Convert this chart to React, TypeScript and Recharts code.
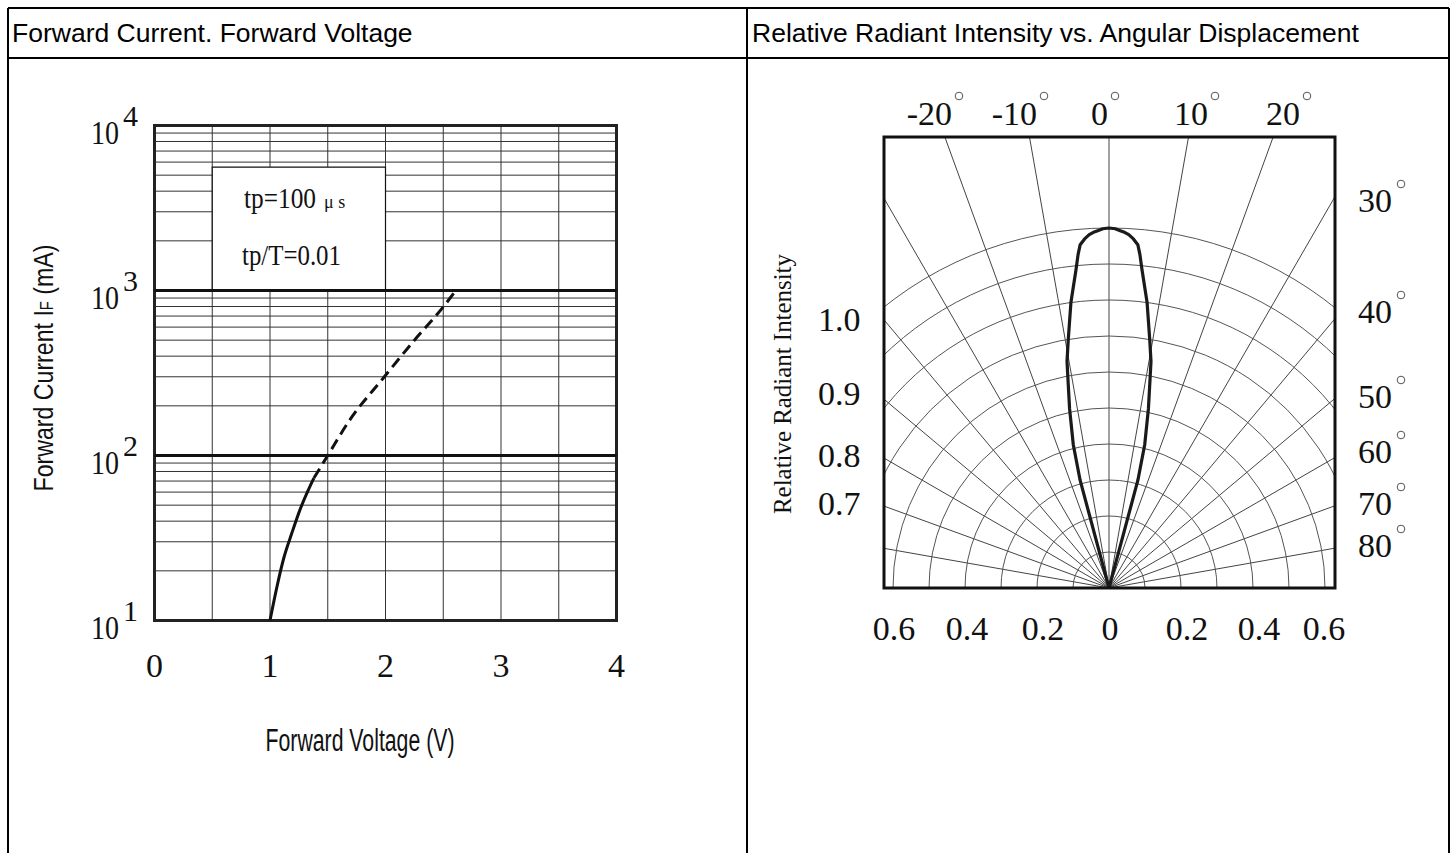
import React from "react";
import {
  LineChart,
  Line,
  XAxis,
  YAxis,
  CartesianGrid,
  ReferenceLine,
  ReferenceArea,
  RadarChart,
  Radar,
  PolarGrid,
  PolarAngleAxis,
  PolarRadiusAxis,
} from "recharts";

// ---- Forward current vs forward voltage ----
const VF_SOLID = [1.0, 1.06, 1.12, 1.19, 1.26, 1.35, 1.38];
const IF_SOLID = [10, 16, 24, 34, 47, 66, 73];
const VF_DASHED = [1.38, 1.5, 1.69, 1.98, 2.24, 2.5, 2.59];
const IF_DASHED = [73, 100, 164, 294, 490, 795, 960];

const VF_TICKS = [0, 0.5, 1, 1.5, 2, 2.5, 3, 3.5, 4];
const IF_TICKS = [
  10, 20, 30, 40, 50, 60, 70, 80, 90,
  100, 200, 300, 400, 500, 600, 700, 800, 900,
  1000, 2000, 3000, 4000, 5000, 6000, 7000, 8000, 9000, 10000,
];
const LEGEND_LINES = ["tp=100", "tp/T=0.01"];

// ---- Radiation pattern ----
const BEAM_ANGLE = [
  -15.6, -15.0, -14.0, -12.4, -11.0, -10.5, -9.3, -7.6, -5.9, -5.3, -4.8, -4.0, -3.2, -2.5, -1.8, -1.0,
  0,
  1.0, 1.8, 2.5, 3.2, 4.0, 4.8, 5.3, 5.9, 7.6, 9.3, 10.5, 11.0, 12.4, 14.0, 15.0, 15.6,
];
const BEAM_INTENSITY = [
  0, 0.31, 0.41, 0.51, 0.6, 0.64, 0.7, 0.8, 0.89, 0.93, 0.957, 0.972, 0.983, 0.989, 0.993, 0.998,
  1.0,
  0.998, 0.993, 0.989, 0.983, 0.972, 0.957, 0.93, 0.89, 0.8, 0.7, 0.64, 0.6, 0.51, 0.41, 0.31, 0,
];
const SPOKE_ANGLES = [-90, -80, -70, -60, -50, -40, -30, -20, -10, 0, 10, 20, 30, 40, 50, 60, 70, 80, 90];
const RINGS = [0.1, 0.2, 0.3, 0.4, 0.5, 0.6, 0.7, 0.8, 0.9, 1.0];
const TOP_ANGLE_LABELS = [-20, -10, 0, 10, 20];
const SIDE_ANGLE_LABELS = [30, 40, 50, 60, 70, 80];
const LEFT_INTENSITY_LABELS = ["1.0", "0.9", "0.8", "0.7"];
const BOTTOM_LABELS = ["0.6", "0.4", "0.2", "0", "0.2", "0.4", "0.6"];

const ivRows = [
  ...VF_SOLID.map((v, i) => ({ v, solid: IF_SOLID[i] })),
  ...VF_DASHED.map((v, i) => ({ v, dashed: IF_DASHED[i] })),
];
const beamRows = BEAM_ANGLE.map((angle, i) => ({ angle, intensity: BEAM_INTENSITY[i] }));

const SANS = "'Liberation Sans', Arial, sans-serif";
const SERIF = "'Liberation Serif', 'Times New Roman', serif";

// polar plot placement (page pixels)
const BOX = { left: 884, top: 137, size: 451 };
const RADIUS = 360;

// label placement
const TOP_LABEL_RIGHT = [952, 1037, 1108, 1208, 1300];
const SIDE_LABEL_BASE = [212, 323, 408, 463, 515, 557];
const LEFT_LABEL_BASE = [331, 405, 467, 515];
const BOTTOM_LABEL_X = [894, 967, 1043, 1110, 1187, 1259, 1324];

const VoltTick = (props: any) => {
  const { x, payload } = props;
  if (!Number.isInteger(payload.value)) return <g />;
  return (
    <text x={x} y={677} textAnchor="middle" fontFamily={SERIF} fontSize={34} fill="#111">
      {payload.value}
    </text>
  );
};

const CurrentTick = (props: any) => {
  const { y, payload } = props;
  const exp = Math.round(Math.log10(payload.value));
  if (Math.pow(10, exp) !== payload.value) return <g />;
  return (
    <g fontFamily={SERIF} fill="#111">
      <text x={119} y={y + 18} textAnchor="end" fontSize={34} textLength={28} lengthAdjust="spacingAndGlyphs">
        10
      </text>
      <text x={123} y={y} fontSize={30} textLength={15} lengthAdjust="spacingAndGlyphs">
        {exp}
      </text>
    </g>
  );
};

const Degree = ({ x, y }: { x: number; y: number }) => (
  <circle cx={x} cy={y} r={3.8} fill="none" stroke="#555" strokeWidth={1} />
);

export default function App() {
  return (
    <div
      style={{
        position: "absolute",
        left: 0,
        top: 0,
        width: 1456,
        height: 853,
        background: "#fff",
        overflow: "hidden",
      }}
    >
      {/* left: IF vs VF */}
      <div style={{ position: "absolute", left: 0, top: 0 }}>
        <LineChart
          width={747}
          height={853}
          data={ivRows}
          margin={{ top: 125.5, right: 130.5, bottom: 182.5, left: 94.5 }}
        >
          <CartesianGrid stroke="#333" strokeWidth={1} />
          <XAxis
            type="number"
            dataKey="v"
            domain={[0, 4]}
            ticks={VF_TICKS}
            interval={0}
            height={50}
            tick={<VoltTick />}
            tickLine={false}
            axisLine={false}
          />
          <YAxis
            type="number"
            scale="log"
            domain={[10, 10000]}
            ticks={IF_TICKS}
            interval={0}
            width={60}
            allowDataOverflow
            tick={<CurrentTick />}
            tickLine={false}
            axisLine={false}
          />
          <ReferenceArea
            x1={0.5}
            x2={2}
            y1={1000}
            y2={5600}
            fill="#fff"
            fillOpacity={1}
            stroke="#111"
            strokeWidth={1.2}
          />
          <ReferenceLine y={100} stroke="#111" strokeWidth={3} />
          <ReferenceLine y={1000} stroke="#111" strokeWidth={3} />
          <ReferenceArea x1={0} x2={4} y1={10} y2={10000} fill="none" fillOpacity={0} stroke="#222" strokeWidth={3} />
          <Line
            dataKey="solid"
            type="monotone"
            stroke="#111"
            strokeWidth={3}
            dot={false}
            isAnimationActive={false}
          />
          <Line
            dataKey="dashed"
            type="monotone"
            stroke="#111"
            strokeWidth={3}
            strokeDasharray="11 6"
            dot={false}
            isAnimationActive={false}
          />
        </LineChart>
      </div>

      {/* right: polar radiation pattern, clipped to its frame */}
      <div
        style={{
          position: "absolute",
          left: BOX.left,
          top: BOX.top,
          width: BOX.size,
          height: BOX.size,
          overflow: "hidden",
        }}
      >
        {/* spokes run out to the frame edges */}
        <div style={{ position: "absolute", left: 0, top: 0 }}>
          <RadarChart
            width={BOX.size}
            height={BOX.size}
            data={beamRows}
            cx={225}
            cy={451}
            innerRadius={0}
            outerRadius={520}
            startAngle={180}
            endAngle={0}
            margin={{ top: 0, right: 0, bottom: 0, left: 0 }}
          >
            <PolarGrid gridType="circle" polarRadius={[]} stroke="#444" />
            <PolarAngleAxis
              dataKey="angle"
              type="number"
              domain={[-90, 90]}
              ticks={SPOKE_ANGLES as any}
              tickCount={19}
              tick={false}
              axisLine={false}
            />
            <PolarRadiusAxis domain={[0, 1]} tick={false} axisLine={false} />
          </RadarChart>
        </div>
        {/* rings + beam */}
        <div style={{ position: "absolute", left: 0, top: 0 }}>
          <RadarChart
            width={BOX.size}
            height={BOX.size}
            data={beamRows}
            cx={225}
            cy={451}
            innerRadius={0}
            outerRadius={RADIUS}
            startAngle={180}
            endAngle={0}
            margin={{ top: 0, right: 0, bottom: 0, left: 0 }}
          >
            <PolarGrid
              gridType="circle"
              radialLines={false}
              polarRadius={RINGS.map((r) => r * RADIUS)}
              stroke="#555"
            />
            <PolarAngleAxis
              dataKey="angle"
              type="number"
              domain={[-90, 90]}
              ticks={SPOKE_ANGLES as any}
              tickCount={19}
              tick={false}
              axisLine={false}
            />
            <PolarRadiusAxis domain={[0, 1]} tickCount={11} tick={false} axisLine={false} />
            <Radar
              dataKey="intensity"
              stroke="#1a1a1a"
              strokeWidth={3.2}
              strokeLinejoin="round"
              fill="none"
              fillOpacity={0}
              dot={false}
              isAnimationActive={false}
            />
          </RadarChart>
        </div>
      </div>

      {/* table frame, titles and annotations */}
      <svg
        width={1456}
        height={853}
        style={{ position: "absolute", left: 0, top: 0, pointerEvents: "none" }}
      >
        <g stroke="#000" strokeWidth={2}>
          <line x1={8} y1={8} x2={1449} y2={8} />
          <line x1={8} y1={58} x2={1449} y2={58} />
          <line x1={8} y1={8} x2={8} y2={853} />
          <line x1={747} y1={8} x2={747} y2={853} />
          <line x1={1449} y1={8} x2={1449} y2={853} />
        </g>
        <text x={12} y={42} fontFamily={SANS} fontSize={26.5} fill="#000">
          Forward Current. Forward Voltage
        </text>
        <text x={752} y={42} fontFamily={SANS} fontSize={26.5} fill="#000">
          Relative Radiant Intensity vs. Angular Displacement
        </text>

        {/* left chart texts */}
        <text
          transform="translate(53,368) rotate(-90)"
          textAnchor="middle"
          fontFamily={SANS}
          fontSize={28}
          fill="#111"
          textLength={247}
          lengthAdjust="spacingAndGlyphs"
        >
          Forward Current I<tspan fontSize={18}>F</tspan> (mA)
        </text>
        <text
          x={360}
          y={751}
          textAnchor="middle"
          fontFamily={SANS}
          fontSize={31}
          fill="#111"
          textLength={189}
          lengthAdjust="spacingAndGlyphs"
        >
          Forward Voltage (V)
        </text>
        <g fontFamily={SERIF} fill="#111">
          <text x={244} y={208} fontSize={30}>
            <tspan textLength={72} lengthAdjust="spacingAndGlyphs">
              {LEGEND_LINES[0]}
            </tspan>
            <tspan dx={8} fontSize={18}>
              μ s
            </tspan>
          </text>
          <text x={242} y={265} fontSize={30} textLength={99} lengthAdjust="spacingAndGlyphs">
            {LEGEND_LINES[1]}
          </text>
        </g>

        {/* polar frame */}
        <rect
          x={BOX.left}
          y={BOX.top}
          width={BOX.size}
          height={BOX.size}
          fill="none"
          stroke="#111"
          strokeWidth={3}
        />
        <g fontFamily={SERIF} fontSize={34} fill="#111">
          {TOP_ANGLE_LABELS.map((a, i) => (
            <g key={"t" + a}>
              <text x={TOP_LABEL_RIGHT[i]} y={125} textAnchor="end">
                {a}
              </text>
              <Degree x={TOP_LABEL_RIGHT[i] + 7} y={96} />
            </g>
          ))}
          {SIDE_ANGLE_LABELS.map((a, i) => (
            <g key={"s" + a}>
              <text x={1358} y={SIDE_LABEL_BASE[i]}>
                {a}
              </text>
              <Degree x={1401} y={SIDE_LABEL_BASE[i] - 28} />
            </g>
          ))}
          {LEFT_INTENSITY_LABELS.map((t, i) => (
            <text key={"l" + t} x={818} y={LEFT_LABEL_BASE[i]}>
              {t}
            </text>
          ))}
          {BOTTOM_LABELS.map((t, i) => (
            <text key={"b" + i} x={BOTTOM_LABEL_X[i]} y={640} textAnchor="middle">
              {t}
            </text>
          ))}
        </g>
        <text
          transform="translate(791,384) rotate(-90)"
          textAnchor="middle"
          fontFamily={SERIF}
          fontSize={25}
          fill="#111"
          textLength={260}
          lengthAdjust="spacingAndGlyphs"
        >
          Relative Radiant Intensity
        </text>
      </svg>
    </div>
  );
}
